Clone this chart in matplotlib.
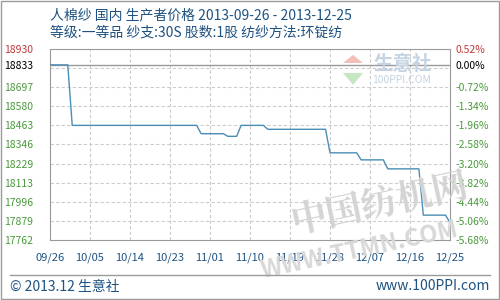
import matplotlib
matplotlib.use('Agg')
import matplotlib.pyplot as plt
import pandas as pd
from matplotlib.lines import Line2D
from matplotlib.patches import Rectangle, Polygon

plt.rcParams['font.family'] = ['Noto Sans CJK SC', 'DejaVu Sans']

# price change points (line drawn straight between them)
dates = ['2013-09-26', '2013-09-30', '2013-10-01', '2013-10-29', '2013-10-30',
         '2013-11-04', '2013-11-05', '2013-11-07', '2013-11-08', '2013-11-13',
         '2013-11-14', '2013-11-27', '2013-11-28', '2013-12-04', '2013-12-05',
         '2013-12-10', '2013-12-11', '2013-12-18', '2013-12-19', '2013-12-24',
         '2013-12-25']
prices = [18833, 18833, 18463, 18463, 18412,
          18412, 18396, 18396, 18463, 18463,
          18439, 18439, 18295, 18295, 18252,
          18252, 18197, 18197, 17914, 17914,
          17868]

base_price = 18833
y_grid = [17878.8, 17995.6, 18112.4, 18229.2, 18346.0, 18462.8, 18579.6, 18696.4, 18813.2]
y_ticks = [17762, 17879, 17996, 18113, 18229, 18346, 18463, 18580, 18697, 18833, 18930]
y_labels = ['17762', '17879', '17996', '18113', '18229', '18346', '18463', '18580', '18697', '18833', '18930']
pct_labels = ['-5.68%', '-5.06%', '-4.44%', '-3.82%', '-3.20%', '-2.58%', '-1.96%', '-1.34%', '-0.72%', '0.00%', '0.52%']
x_ticks = ['2013-09-26', '2013-10-05', '2013-10-14', '2013-10-23', '2013-11-01', '2013-11-10',
           '2013-11-19', '2013-11-28', '2013-12-07', '2013-12-16', '2013-12-25']

title1 = '人棉纱 国内 生产者价格 2013-09-26 - 2013-12-25'
title2 = '等级:一等品 纱支:30S 股数:1股 纺纱方法:环锭纺'

blue_txt = '#1e5282'
green = '#4a9a3c'
red = '#c0393b'

x = pd.to_datetime(dates)
xt = pd.to_datetime(x_ticks)

fig = plt.figure(figsize=(5, 3), dpi=100)
ax = fig.add_axes([0.1, 0.2, 0.8, 0.6367])

# watermarks
fig.text(0.76, 0.315, '中国纺机网', fontsize=26, color='#d4d4d4', rotation=12,
         ha='center', va='center', family=['Noto Serif CJK SC', 'Noto Sans CJK SC'],
         fontweight='bold', zorder=0)
fig.text(0.72, 0.165, 'WWW.TTMN.COM', fontsize=17, color='#d8d8d8', rotation=12,
         ha='center', va='center', fontweight='bold', zorder=0)
fig.text(0.806, 0.785, '生意社', fontsize=14, color='#c5d3e2', ha='center', va='center',
         fontweight='bold', zorder=0)
fig.text(0.804, 0.733, '100PPI.COM', fontsize=7.5, color='#c5d3e2', ha='center', va='center', zorder=0)
fig.add_artist(Polygon([[0.686, 0.79], [0.726, 0.79], [0.706, 0.817]], closed=True,
                       fc='#f3c0b8', ec='none', zorder=0))
fig.add_artist(Polygon([[0.686, 0.757], [0.726, 0.757], [0.706, 0.717]], closed=True,
                       fc='#c6e6c4', ec='none', zorder=0))

ax.set_facecolor('none')
ax.plot(x, prices, color='#4a8db5', lw=1.0, zorder=3)
ax.axhline(base_price, color='#9a9a9a', lw=1, zorder=2)
for g in y_grid:
    ax.axhline(g, color='#cccccc', lw=0.8, ls=(0, (3, 2)), zorder=1)
for d in xt[1:-1]:
    ax.axvline(d, color='#cccccc', lw=0.8, ls=(0, (3, 2)), zorder=1)

ax.set_xlim(xt[0], xt[-1])
ax.set_ylim(17762, 18930)
for s in ax.spines.values():
    s.set_color('#9a9a9a')

ax.set_xticks(xt)
ax.set_xticklabels([d.strftime('%m/%d') for d in xt], color=blue_txt, fontsize=8)
ax.set_yticks(y_ticks)
ax.set_yticklabels(y_labels, fontsize=7.5)
ax.tick_params(axis='x', length=0, pad=9)
ax.tick_params(axis='y', length=0, pad=12)
for lab in ax.get_yticklabels():
    lab.set_color(green)
ax.get_yticklabels()[-2].set_color('black')
ax.get_yticklabels()[-1].set_color(red)

ax2 = ax.twinx()
ax2.set_ylim(17762, 18930)
ax2.set_yticks(y_ticks)
ax2.set_yticklabels(pct_labels, fontsize=7.5)
ax2.tick_params(axis='y', length=0, pad=4)
for lab in ax2.get_yticklabels():
    lab.set_color(green)
ax2.get_yticklabels()[-2].set_color('black')
ax2.get_yticklabels()[-1].set_color(red)
for s in ax2.spines.values():
    s.set_visible(False)

fig.text(0.1, 0.95, title1, fontsize=10, color=blue_txt, ha='left', va='center')
fig.text(0.1, 0.89, title2, fontsize=10, color=blue_txt, ha='left', va='center')

# footer
fig.add_artist(Line2D([0.02, 0.98], [0.083, 0.083], color='#9a9a9a', lw=1))
fig.text(0.02, 0.045, '© 2013.12 生意社', fontsize=10, color=blue_txt, ha='left', va='center')
fig.text(0.98, 0.045, 'www.100PPI.com', fontsize=10, color=blue_txt, ha='right', va='center')
fig.add_artist(Rectangle((0.001, 0.002), 0.997, 0.995, fill=False, ec='#9a9a9a', lw=1,
                         transform=fig.transFigure))

fig.savefig('out.png', dpi=100)
